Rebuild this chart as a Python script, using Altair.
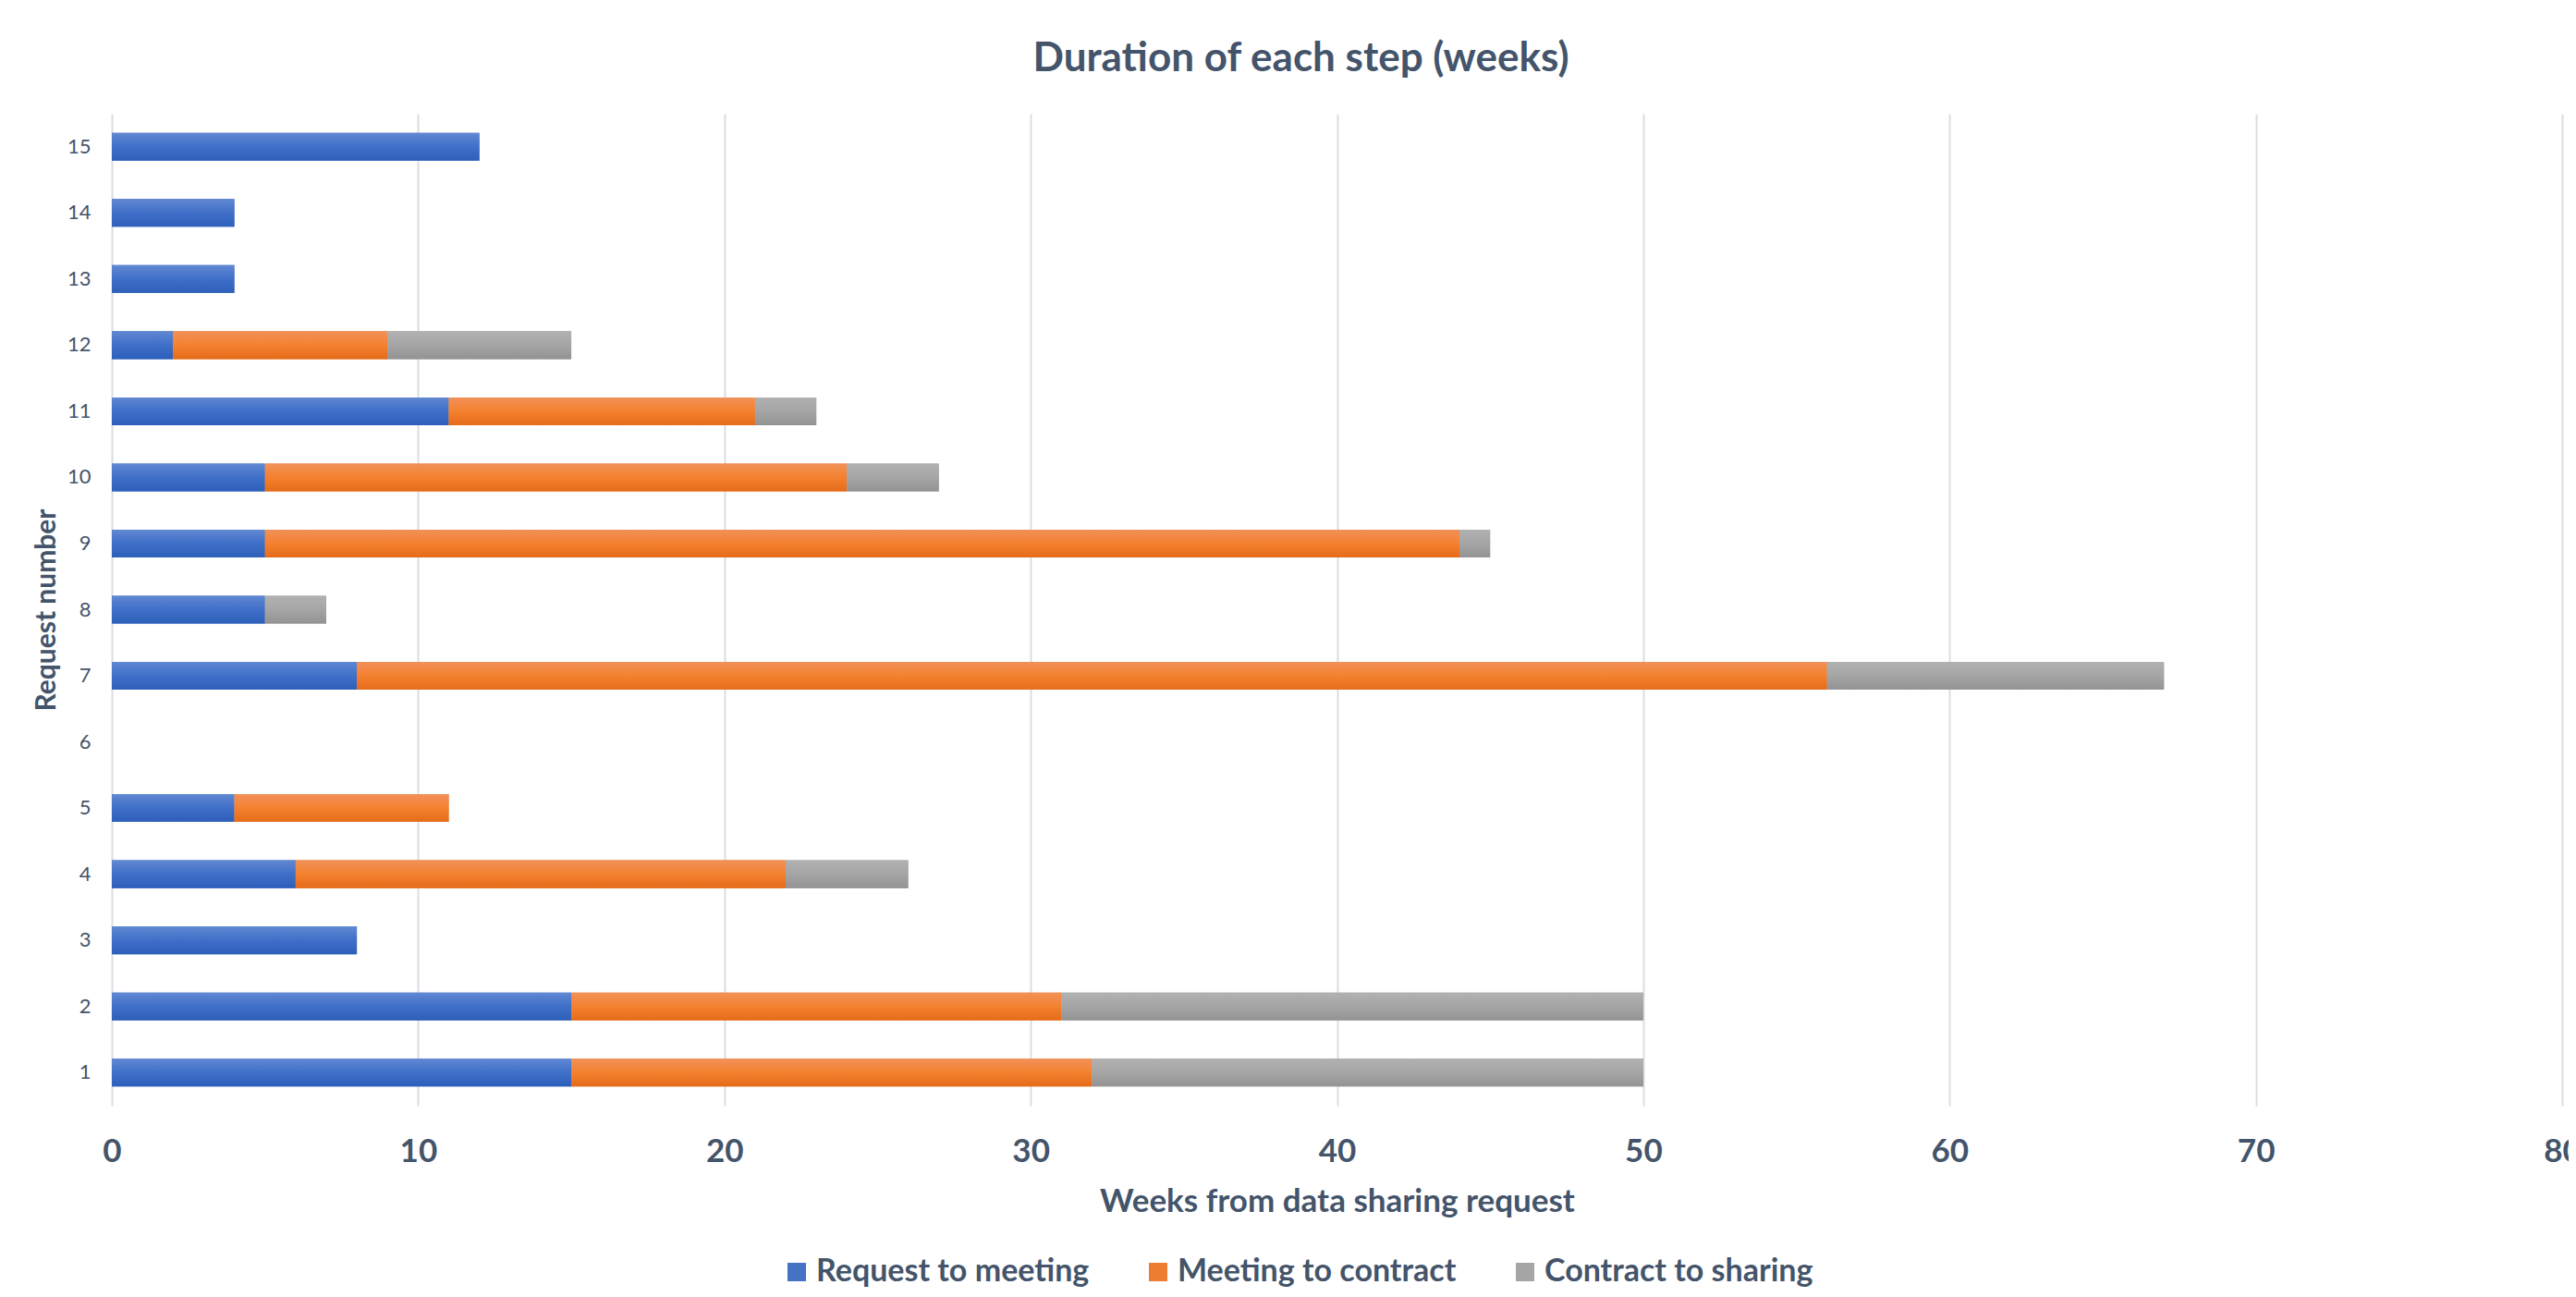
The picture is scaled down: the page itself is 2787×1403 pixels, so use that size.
import altair as alt
import pandas as pd

requests = [str(i) for i in range(1, 16)]
request_to_meeting = [15, 15, 8, 6, 4, 0, 8, 5, 5, 5, 11, 2, 4, 4, 12]
meeting_to_contract = [17, 16, 0, 16, 7, 0, 48, 0, 39, 19, 10, 7, 0, 0, 0]
contract_to_sharing = [18, 19, 0, 4, 0, 0, 11, 2, 1, 3, 2, 6, 0, 0, 0]
steps = ["Request to meeting", "Meeting to contract", "Contract to sharing"]
solid_colors = ["#4472C4", "#ED7D31", "#A5A5A5"]
gradient_stops = [
    ["#6188D2", "#3F6FC8", "#2D5FBA"],
    ["#F19159", "#F4812F", "#E56B19"],
    ["#B1B1B1", "#A5A5A5", "#939393"],
]
x_ticks = [0, 10, 20, 30, 40, 50, 60, 70, 80]

TXT = "#44546A"
FONT = "Lato"

rows = []
for series_index, (step, values) in enumerate(
    zip(steps, [request_to_meeting, meeting_to_contract, contract_to_sharing])
):
    for req, v in zip(requests, values):
        rows.append({"request": req, "step": step, "order": series_index, "weeks": v})
df = pd.DataFrame(rows)

x_axis = alt.Axis(
    values=x_ticks,
    grid=True,
    gridColor="#D9DDE5",
    gridWidth=2,
    domain=False,
    ticks=False,
    tickSize=0,
    labelFlush=False,
    labelFont=FONT,
    labelFontWeight="bold",
    labelFontSize=35,
    labelColor=TXT,
    labelBaseline="alphabetic",
    labelPadding=60,
    title="Weeks from data sharing request",
    titleFont=FONT,
    titleFontSize=35,
    titleFontWeight="bold",
    titleColor=TXT,
    titleBaseline="alphabetic",
    titleY=114,
)
y_axis = alt.Axis(
    grid=False,
    domain=False,
    ticks=False,
    tickSize=0,
    labelFont=FONT,
    labelFontSize=22,
    labelColor=TXT,
    labelPadding=23,
    title="Request number",
    titleFont=FONT,
    titleFontSize=30,
    titleFontWeight="bold",
    titleColor=TXT,
    titleAngle=270,
    titleBaseline="alphabetic",
    titleX=-62,
    titleY=536.5,
)

x_enc = alt.X("x0:Q", scale=alt.Scale(domain=[0, 80]), axis=x_axis)
x2_enc = alt.X2("x1:Q")
y_enc = alt.Y(
    "request:N",
    scale=alt.Scale(domain=requests[::-1], paddingInner=0.58),
    axis=y_axis,
)

base = (
    alt.Chart(df)
    .transform_stack(
        stack="weeks",
        groupby=["request"],
        as_=["x0", "x1"],
        sort=[alt.SortField("order", order="ascending")],
    )
    .transform_filter("datum.weeks > 0")
)

legend_layer = base.mark_bar().encode(
    x=x_enc,
    x2=x2_enc,
    y=y_enc,
    color=alt.Color(
        "step:N",
        scale=alt.Scale(domain=steps, range=solid_colors),
        legend=alt.Legend(
            title=None,
            orient="none",
            direction="horizontal",
            legendX=724,
            legendY=1236,
            symbolType="square",
            symbolSize=400,
            symbolStrokeWidth=0,
            labelFont=FONT,
            labelFontWeight="bold",
            labelFontSize=34,
            labelColor=TXT,
            labelOffset=4,
            labelLimit=0,
            columnPadding=57,
        ),
    ),
)

layers = [legend_layer]
for step, stops in zip(steps, gradient_stops):
    grad = alt.Gradient(
        gradient="linear",
        stops=[
            alt.GradientStop(offset=0, color=stops[0]),
            alt.GradientStop(offset=0.5, color=stops[1]),
            alt.GradientStop(offset=1, color=stops[2]),
        ],
        x1=0,
        x2=0,
        y1=0,
        y2=1,
    )
    layers.append(
        base.transform_filter(alt.datum.step == step)
        .mark_bar(color=grad)
        .encode(x=x_enc, x2=x2_enc, y=y_enc)
    )

chart = (
    alt.layer(*layers)
    .properties(
        width=2651,
        height=1073,
        autosize=alt.AutoSizeParams(type="none"),
        padding={"left": 113, "top": 115, "right": 7, "bottom": 199},
        background="white",
        title=alt.TitleParams(
            "Duration of each step (weeks)",
            font=FONT,
            fontSize=44,
            fontWeight="bold",
            color=TXT,
            anchor="middle",
            dx=-39,
            offset=2,
            baseline="alphabetic",
            frame="group",
        ),
    )
    .configure_view(stroke=None)
)

chart.save("out.html", embed_options={"renderer": "svg", "actions": False})
